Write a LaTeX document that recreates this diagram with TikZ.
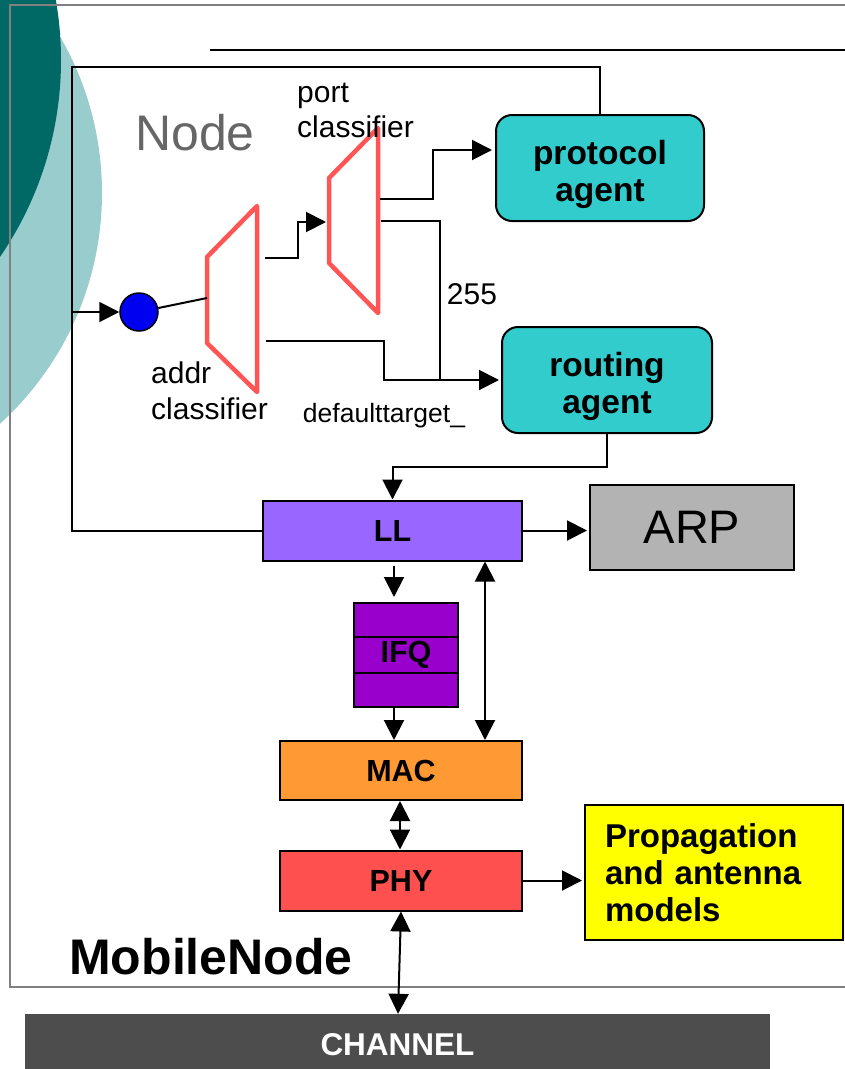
\documentclass[tikz,border=0pt]{standalone}
\usepackage{fontspec}
\setmainfont{Liberation Sans}
\usetikzlibrary{arrows.meta,calc}
\definecolor{darkteal}{HTML}{006966}
\definecolor{lightteal}{HTML}{99CCCC}
\definecolor{framegray}{HTML}{808080}
\definecolor{clsred}{HTML}{FF5555}
\definecolor{dotblue}{HTML}{0000F0}
\definecolor{agentcyan}{HTML}{33CCCC}
\definecolor{llviolet}{HTML}{9966FF}
\definecolor{ifqpurple}{HTML}{9900CC}
\definecolor{arpgray}{HTML}{B3B3B3}
\definecolor{macorange}{HTML}{FF9933}
\definecolor{phyred}{HTML}{FF5050}
\definecolor{propyellow}{HTML}{FFFF00}
\definecolor{chgray}{HTML}{4D4D4D}
\definecolor{nodegray}{HTML}{666666}
\newcommand{\fsz}[2]{\fontsize{#1}{#2}\selectfont}
\begin{document}
\begin{tikzpicture}[x=1pt,y=-1pt,
  conn/.style={line width=2pt},
  arr/.style={conn,-{Triangle[length=20pt,width=20pt]}},
  darr/.style={conn,{Triangle[length=20pt,width=20pt]}-{Triangle[length=20pt,width=20pt]}},
  box/.style={draw=black,line width=2pt,inner sep=0pt,font=\fsz{30.5}{34}\bfseries},
  agentbox/.style={box,fill=agentcyan,rounded corners=16pt,minimum width=208pt,minimum height=106pt},
  agenttext/.style={inner sep=0pt,align=center,font=\fsz{33.5}{37.5}\bfseries},
  classifier/.style={draw=clsred,line width=4.5pt,line join=round},
  lbl/.style={inner sep=0pt,font=\fsz{30}{36}}
]
\useasboundingbox (0,0) rectangle (845,1069);
% background circles
\begin{scope}
\clip (0,0) rectangle (845,1069);
\fill[lightteal] (-210,193) circle (312);
\fill[darkteal] (-287,60) circle (348);
\end{scope}
% frame lines
\draw[framegray,line width=1.5pt] (845,5) -- (10,5) -- (10,987) -- (845,987);
\draw[line width=2pt] (210,50) -- (845,50);

% nodes
\node[agentbox] (proto) at (600,168) {};
\node[agenttext] (protolbl) at ($(proto.center)+(0,6.5)$) {protocol\\agent};
\node[agentbox,minimum width=210pt] (routing) at (607,380) {};
\node[agenttext] (routinglbl) at ($(routing.center)+(0,6.5)$) {routing\\agent};
\node[box,fill=llviolet,minimum width=259pt,minimum height=60pt] (LL) at (392.5,530.5) {LL};
\node[box,fill=arpgray,minimum width=204pt,minimum height=85pt,font=\fsz{47}{56}] (ARP) at (692,527.5) {ARP};
\node[box,fill=ifqpurple,minimum width=104pt,minimum height=104pt] (IFQ) at (406,655) {IFQ};
\node[box,fill=macorange,minimum width=242pt,minimum height=59pt] (MAC) at (401,770.5) {MAC};
\node[box,fill=phyred,minimum width=242pt,minimum height=60pt] (PHY) at (401,880.5) {PHY};
\node[box,fill=propyellow,minimum width=258pt,minimum height=135pt,inner xsep=20pt,text width=218pt,align=left,font=\fsz{33}{37}\bfseries] (prop) at (714,872.5) {Propagation\\and antenna\\models};
\node[fill=chgray,text=white,inner sep=0pt,minimum width=745pt,minimum height=62pt,font=\fsz{31.5}{36}\bfseries] (channel) at (397.5,1045) {CHANNEL};
\node[draw=black,line width=1.5pt,fill=dotblue,circle,minimum size=38pt,inner sep=0pt] (dot) at (139,312) {};

% IFQ dividers
\draw[line width=2pt] ($(IFQ.north west)!1/3!(IFQ.south west)$) -- ($(IFQ.north east)!1/3!(IFQ.south east)$);
\draw[line width=2pt] ($(IFQ.north west)!2/3!(IFQ.south west)$) -- ($(IFQ.north east)!2/3!(IFQ.south east)$);

% classifiers
\draw[classifier] (207,257) -- (257,206) -- (257,392) -- (207,343) -- cycle;
\draw[classifier] (329,178) -- (378,128) -- (378,313) -- (329,263) -- cycle;
\coordinate (addrin) at (207,298);
\coordinate (addrA) at (265,258);
\coordinate (addrB) at (266,341);
\coordinate (portin) at (326,222);
\coordinate (portA) at (380,199);
\coordinate (portB) at (381,221);
\coordinate (tl) at (72,67);
\coordinate (ml) at (72,312);
\coordinate (J) at (440,380);

% labels
\node[inner sep=0pt,text=nodegray,font=\fsz{50}{60}] (nodelbl) at (195,133) {Node};
\node[lbl,anchor=west,align=left,font=\fsz{30}{35}] (portlbl) at (297,110) {port\\classifier};
\node[lbl,anchor=west,align=left,font=\fsz{30}{36}] (addrlbl) at (151,391) {addr\\classifier};
\node[lbl] (l255) at (472,294) {255};
\node[lbl,font=\fsz{26.5}{32}] (dflt) at (384,416) {defaulttarget\_};
\node[inner sep=0pt,font=\fsz{50}{60}\bfseries] (mobilelbl) at (211,957) {MobileNode};

% connectors
\draw[conn] (proto.north) |- (tl) -- (LL.west -| tl) -- (LL.west);
\draw[arr] (ml) -- (dot.west);
\draw[conn] (dot) -- (addrin);
\draw[arr] (addrA) -- ++(33,0) |- (portin);
\draw[arr] (portA) -- ++(53,0) |- ([yshift=18pt,xshift=-3pt]proto.west);
\draw[conn] (portB) -| (J);
\draw[arr] (addrB) -- ++(118,0) |- ([xshift=-2pt]routing.west);
\draw[arr] (routing.south) -- ++(0,33) -| (LL.north);
\draw[arr] (LL.east) -- ([xshift=-2pt]ARP.west |- LL.east);
\draw[arr] ([yshift=-4pt,xshift=1.5pt]LL.south) -- ([yshift=5pt]IFQ.north -| {$(LL.south)+(1.5,0)$});
\draw[arr] (IFQ.south -| {$(LL.south)+(1.5,0)$}) -- (MAC.north -| {$(LL.south)+(1.5,0)$});
\draw[darr] ([xshift=92.5pt]LL.south) -- ([xshift=92.5pt]LL.south |- MAC.north);
\draw[darr] ([xshift=-1pt]MAC.south) -- ([xshift=-1pt]PHY.north);
\draw[arr] (PHY.east) -- ([xshift=-2pt]PHY.east -| prop.west);
\draw[darr] (PHY.south) -- ([xshift=-3pt]PHY.south |- channel.north);
\end{tikzpicture}
\end{document}
